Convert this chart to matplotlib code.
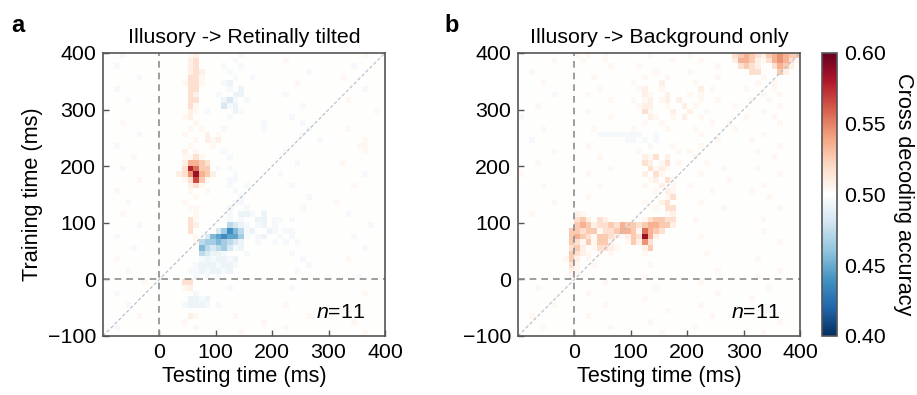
import numpy as np
import matplotlib
matplotlib.use('Agg')
import matplotlib.pyplot as plt
from matplotlib.colors import LinearSegmentedColormap

plt.rcParams['font.family'] = ['Liberation Sans', 'DejaVu Sans']
plt.rcParams['mathtext.fontset'] = 'custom'
plt.rcParams['mathtext.it'] = 'Liberation Sans:italic'
plt.rcParams['mathtext.rm'] = 'Liberation Sans'

# time axis (ms) for both training and testing, 10 ms cells
t_start, t_end = -100, 400
x_ticks = [0, 100, 200, 300, 400]
y_ticks = [-100, 0, 100, 200, 300, 400]
cbar_ticks = [0.40, 0.45, 0.50, 0.55, 0.60]
titles = ['Illusory -> Retinally tilted', 'Illusory -> Background only']
letters = ['a', 'b']

# accuracy codes
# '.'=0.50, '+'/'-' faint, '1'..'9' above chance, 'a'..'i' below chance
level = {'.': 0.5, '+': 0.504, '-': 0.496}
red_levels = [0.508, 0.517, 0.526, 0.535, 0.545, 0.555, 0.566, 0.576, 0.586]
blue_levels = [0.492, 0.483, 0.474, 0.465, 0.456, 0.447, 0.438, 0.43, 0.42]
for ch, v in zip('123456789', red_levels):
    level[ch] = v
for ch, v in zip('abcdefghi', blue_levels):
    level[ch] = v

# rows from training time 400 (top) down to -100; columns testing -100 -> 400
panel_a_rows = [
    "...-...... .....+1... ....-..... .......... ......+...",
    ".......... .....12... ...-...... ..+....... ..........",
    "..-....... .....12... .-..-..... .......... ....-.....",
    ".......... .....121.. ..-....... ......-... ..........",
    "......-... .....22+.. ...-..-... .......... ..+.......",
    ".......... ....+22+.. .-a....... ....+..... ..........",
    "..-....... .....22... ..-.a..... .......... ......-...",
    ".......... .....21... -..aa..... ..-....... ..........",
    "....-..... .....22... .ab-.-.... .......... ...+......",
    ".......... .....2+... .b-a...... .....-.... ..........",
    "-......... .....1+.-. ...a-..... .......... ........+.",
    ".......... ....+1.... ..-....... ...-...... ..........",
    "...+...... ......+... ........-. .....-.... ..........",
    ".......... .....+.+.. .-......-. ......-... ...+......",
    "......-... ....+...1. +......... .....-.... ..........",
    ".......... ......+.1+ 1......... ........-. ......+...",
    "..-....... .....+...+ .......... .......... .....++...",
    ".......... ....1.+... .-........ ..-....... ......+...",
    ".....+.... ....++2+.. ..-....... .......... ..........",
    ".......... ....14432. .......... ....-..... ..+.......",
    "...-...... ....28633. -.-....... .......... ..........",
    ".......... ...1259431 ...-...... .-........ ......-...",
    "......+... ....+273+. ..--...... .......... ..........",
    ".......... .....12+.. ..-..-.... ...-...... ....+.....",
    "..+....... .....+..+. ...-...... .......... ..........",
    ".......... ......+... ....-..... ......-... ..........",
    "....-..... ....+..... ...--..... .......... .+........",
    ".......... .....++... ..-..-.... .....-.... ..........",
    "...+...... ......+... ..-.aa-.a. .......... ...-......",
    ".......... .....2+... ..-.-..aa. --.-...... ..........",
    "......-... .....21... ..cba-.-a. -......... .......-..",
    ".......... .....2.... bdgec-a..a -.--...... ..........",
    "..-....... ......+.be fgffd-.-a. .-.-...... ....-.....",
    ".......... ......+cdd edcba..-.. -.-.-..... ..........",
    ".....-.... .......ecb cdb-a..... .......... ......-...",
    ".......... .......cba a-...-.... ...-...... ..........",
    "..+....... .......-a- aa-a...... .....-.... ...+......",
    ".......... ......-aaa -aa-...... ......-... ..........",
    "....-..... .....--a-a a-a....... ....-..... ..........",
    ".......... ......-.-. -......... .......... .....-....",
    ".......+.. ....22.... .......... .......... ..........",
    ".......... ....+1.... ..-....... ...-...... ..........",
    "..-....... ......-... .......... .......... ......+...",
    ".......... .....aa-a. .......... .......... ..........",
    "....-..... ....-aaa-. -......... ..+....... ..........",
    ".......... .......... .......... .......... ..+.......",
    "......+... .....1+... ...+...... ......+... ..........",
    ".......... ....+..... ........+. .......... ....+.....",
    "..-....... ......+... .......... ..+....... ..........",
    ".......... .......... ....+..... .......... ......+...",
]

panel_b_rows = [
    ".......... +.+..+.... ...+...... +.......23 4321345433",
    "......+... .+...+.... .......+.. ..+.....14 431+24542+",
    ".......... ......+... .+........ .....+...2 321..2431.",
    "..+....... .......... ....+..... +......... .22...31..",
    ".......... ...+...... ..+...+... .....+.... ...+......",
    "....+..... .......... +....1.... .+........ ..+..+....",
    ".......... ....+..... .+1..+.... ..1.+..... +....+....",
    "......-... ..+....... ..1+..1... +.+....... ...+..+...",
    ".......... ......+... +.+1.+1.1. ..+..+.... .+..+.....",
    "...+...... .......... .+11..+..1 .+......+. ......+...",
    ".......... ..+....... ..2+...1.. 1..+...... ...+......",
    "-......... ......+... ...1+..+.1 ..+....... +....+....",
    ".......... .......... ..+..+.... ....+..+.. ......+...",
    "....+..... ...+...... +.....+... .+......+. ..........",
    ".......... ....------ --..-..... ..+....... ...+......",
    "..-....... .........- -.-.-..... .....+.... .+........",
    ".......... ..+....... ...+...+.. ..+....... ......+...",
    "......+... .......... .+......+. +......... ..+.......",
    ".......... ....+..... ..1+2.1... .+........ .....+....",
    "...+...... .......... ..21.+2.+. ...+...... ..........",
    ".......... ......+... ...2+1+... ......+... ..+.......",
    "+......... ..+....... ..1.2+.... ..+....... ......+...",
    ".......... .......... ...+1.2+.. .......+.. ..........",
    "....+..... ....+..... ..+..1.+.. +......... ...+......",
    ".......... .......... ....+.1+.. ....+..... .+........",
    ".......... ..+....... ......+2.. .......... ....+.....",
    "......+... .......... ..+..12... ..+....... ..........",
    ".......... .......... ....+.22.. ......+... ......+...",
    "..+....... 1+........ ......+1.. .......... ..........",
    ".......... 231.21.... ..+23322.. .+........ ...+......",
    ".......... 3431223243 32344331.. .......... ..........",
    ".........3 3233+22344 3+6432.... .......... ...+......",
    ".........3 432+3321+1 32941..... ..+....... ..........",
    ".........3 2+3+331..+ 3152...... .......... ......+...",
    ".........2 31.+221+.. ..13...... .......... ..........",
    ".........3 21+.+.+... ..+....... ...+...... ..........",
    "........+3 1.+....... .......... .......... ..+.......",
    ".........2 +..+...... ...+...... .......... ..........",
    ".........1 +......... .......... .....+.... ......+...",
    ".........+ .......... ..+....... .......... ..+.......",
    ".......... .....+.... .......... ..+....... ..........",
    "...+...... .......... ....+..... .......... ....+.....",
    ".......... ..+....... .......... .....+.... ..........",
    ".......... .......... ..+....... .......... .+........",
    "......+... .....+.... .......... ..+....... ..........",
    ".......... .......... ......+... .......... ....-.....",
    "..+....... ..+....... .......... ....+..... ..........",
    ".......... .......... ...+...... .......... ......+...",
    "....+..... ......+... .......... .+........ ..........",
    ".......... .......... .....+.... .......... ...+......",
]


def decode(rows):
    grid = []
    for row in rows:
        s = row.replace(' ', '').ljust(50, '.')[:50]
        grid.append([level[ch] for ch in s])
    return np.array(grid)


cmap = LinearSegmentedColormap.from_list('rdbu_white', [
    '#053061', '#2166ac', '#4393c3', '#92c5de', '#d1e5f0', '#ffffff',
    '#fddbc7', '#f4a582', '#d6604d', '#b2182b', '#67001f'])

fig = plt.figure(figsize=(9.17, 3.95), dpi=100)
ax_a = fig.add_axes([0.1123, 0.1494, 0.3075, 0.7165])
ax_b = fig.add_axes([0.5649, 0.1494, 0.3075, 0.7165])
cax = fig.add_axes([0.8964, 0.1494, 0.0164, 0.7165])

edge = '#555555'
fs_tick = 15.4
fs_label = 15.6
for ax, rows, title in zip([ax_a, ax_b], [panel_a_rows, panel_b_rows], titles):
    im = ax.imshow(decode(rows), cmap=cmap, vmin=0.4, vmax=0.6,
                   extent=[t_start, t_end, t_start, t_end], origin='upper',
                   interpolation='nearest', aspect='auto')
    ax.plot([t_start, t_end], [t_start, t_end], color='#b4bcc9',
            ls=(0, (3, 2)), lw=0.8)
    ax.axvline(0, color='#8c8c8c', ls=(0, (4, 3)), lw=1.2)
    ax.axhline(0, color='#8c8c8c', ls=(0, (4, 3)), lw=1.2)
    ax.set_xlim(t_start, t_end)
    ax.set_ylim(t_start, t_end)
    ax.set_xticks(x_ticks)
    ax.set_yticks(y_ticks)
    ax.set_yticklabels([f'{v:d}'.replace('-', '\u2212') for v in y_ticks])
    ax.tick_params(direction='in', length=4, width=1, color=edge,
                   labelsize=fs_tick, pad=5)
    for sp in ax.spines.values():
        sp.set_color(edge)
        sp.set_linewidth(1.2)
    ax.set_title(title, fontsize=fs_tick, pad=7)
    ax.set_xlabel('Testing time (ms)', fontsize=fs_label, labelpad=3)
    ax.text(0.93, 0.05, r'$n$=11', transform=ax.transAxes,
            ha='right', va='bottom', fontsize=fs_tick)

ax_a.set_ylabel('Training time (ms)', fontsize=fs_label, labelpad=3)

for x, letter in zip([0.012, 0.485], letters):
    fig.text(x, 0.92, letter, fontsize=17, fontweight='bold')

cb = fig.colorbar(im, cax=cax, ticks=cbar_ticks)
cb.ax.set_yticklabels([f'{v:.2f}' for v in cbar_ticks])
cb.ax.tick_params(length=0, labelsize=fs_tick, pad=5)
cb.outline.set_edgecolor(edge)
cb.outline.set_linewidth(1.2)
cb.set_label('Cross decoding accuracy', rotation=270, labelpad=20,
             fontsize=fs_label)

fig.savefig('out.png', dpi=100)
